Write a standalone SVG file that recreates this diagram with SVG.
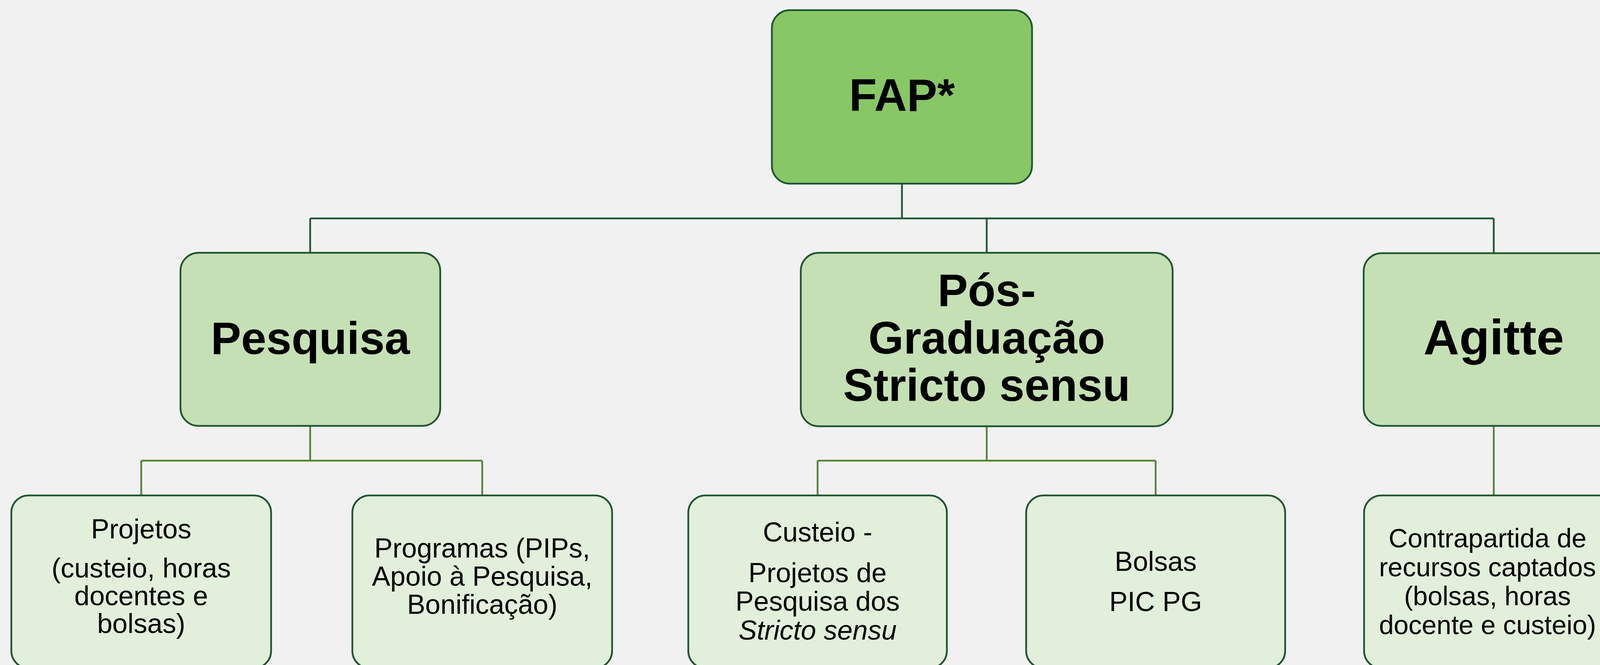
<svg xmlns="http://www.w3.org/2000/svg" width="4123" height="1702" viewBox="0 0 4123 1702">
<style>
.bg{fill:#F1F1F1}
.n0{fill:#88C766;stroke:#1E5631;stroke-width:4.5}
.n1{fill:#C5E0B4;stroke:#1E5631;stroke-width:4.5}
.n2{fill:#E2EFDA;stroke:#1E5631;stroke-width:4.5}
.c1{fill:none;stroke:#1E5631;stroke-width:4.5}
.c2{fill:none;stroke:#548235;stroke-width:4.5}
text{font-family:"Liberation Sans",Arial,sans-serif;fill:#000;text-anchor:middle}
.b{font-weight:bold;font-size:116px}
.r{font-size:70px}
</style>
<rect class="bg" x="0" y="0" width="4123" height="1702"/>
<g id="connectors">
<path class="c1" d="M2309 470V559M794 559H3824M794 559V647M2526 559V647M3824 559V648"/>
<path class="c2" d="M794 1090V1179M361.5 1179H1234.5M361.5 1179V1268M1234.5 1179V1268"/>
<path class="c2" d="M2526 1091V1179M2093 1179H2958.5M2093 1179V1268M2958.5 1179V1268"/>
<path class="c2" d="M3824 1090V1268"/>
</g>
<g id="fap">
<rect class="n0" x="1976" y="26" width="666" height="444" rx="46"/>
<text class="b" x="2309" y="284">FAP*</text>
</g>
<g id="pesquisa">
<rect class="n1" x="462" y="647" width="665" height="443" rx="46"/>
<text class="b" x="794.5" y="906">Pesquisa</text>
</g>
<g id="posgraduacao">
<rect class="n1" x="2050" y="647" width="952" height="444" rx="46"/>
<text class="b" x="2526" y="783">Pós-</text>
<text class="b" x="2526" y="905">Graduação</text>
<text class="b" x="2526" y="1026">Stricto sensu</text>
</g>
<g id="agitte">
<rect class="n1" x="3491" y="648" width="666" height="442" rx="46"/>
<text class="b" x="3824" y="907" style="font-size:127px">Agitte</text>
</g>
<g id="projetos">
<rect class="n2" x="29" y="1268" width="665" height="442" rx="44"/>
<text class="r" x="361.5" y="1378">Projetos</text>
<text class="r" x="361.5" y="1478">(custeio, horas</text>
<text class="r" x="361.5" y="1549">docentes e</text>
<text class="r" x="361.5" y="1620">bolsas)</text>
</g>
<g id="programas">
<rect class="n2" x="902" y="1268" width="665" height="442" rx="44"/>
<text class="r" x="1234.5" y="1427">Programas (PIPs,</text>
<text class="r" x="1234.5" y="1499">Apoio à Pesquisa,</text>
<text class="r" x="1234.5" y="1571">Bonificação)</text>
</g>
<g id="custeio">
<rect class="n2" x="1762" y="1268" width="662" height="442" rx="44"/>
<text class="r" x="2093" y="1386">Custeio -</text>
<text class="r" x="2093" y="1490">Projetos de</text>
<text class="r" x="2093" y="1563">Pesquisa dos</text>
<text class="r" x="2093" y="1637" font-style="italic">Stricto sensu</text>
</g>
<g id="bolsas">
<rect class="n2" x="2627" y="1268" width="663" height="442" rx="44"/>
<text class="r" x="2958.5" y="1461">Bolsas</text>
<text class="r" x="2958.5" y="1564">PIC PG</text>
</g>
<g id="contrapartida">
<rect class="n2" x="3492" y="1268" width="665" height="442" rx="44"/>
<text class="r" x="3808" y="1401" style="font-size:68px">Contrapartida de</text>
<text class="r" x="3808" y="1475" style="font-size:68px">recursos captados</text>
<text class="r" x="3808" y="1549" style="font-size:68px">(bolsas, horas</text>
<text class="r" x="3808" y="1623" style="font-size:68px">docente e custeio)</text>
</g>
</svg>
